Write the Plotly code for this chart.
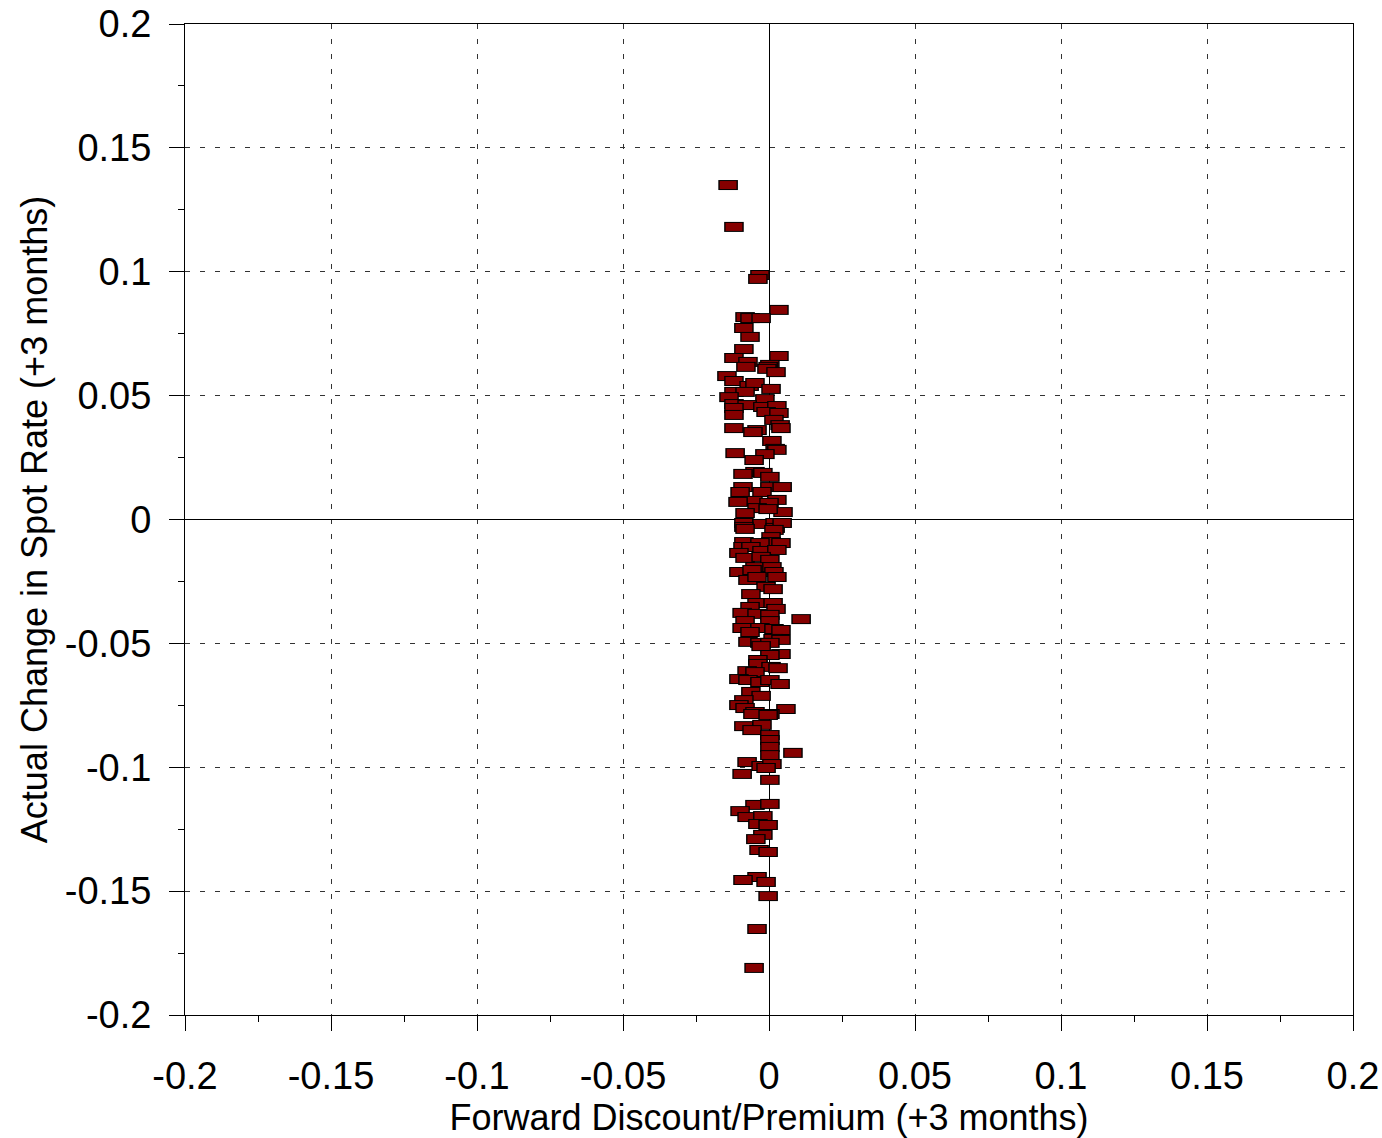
import plotly.graph_objects as go

# Forward discount/premium (+3 months)
fwd = [
    -0.0140, -0.0120, -0.0031, -0.0038, 0.0034, -0.0082, -0.0065, -0.0027, -0.0086, -0.0065,
    -0.0086, 0.0034, -0.0120, -0.0072, 0.0003, -0.0079, -0.0003, -0.0007, 0.0024, -0.0144,
    -0.0120, -0.0068, -0.0048, 0.0007, -0.0120, -0.0082, -0.0137, -0.0014, -0.0120, -0.0075,
    -0.0021, 0.0027, -0.0120, -0.0010, 0.0034, -0.0120, 0.0017, 0.0038, 0.0041, -0.0120,
    -0.0041, -0.0055, 0.0010, 0.0021, 0.0027, -0.0116, -0.0014, -0.0051, -0.0048, -0.0089,
    -0.0021, 0.0003, -0.0089, 0.0003, 0.0045, -0.0099, -0.0024, -0.0055, 0.0027, -0.0106,
    0.0000, -0.0041, -0.0082, 0.0048, -0.0003, -0.0086, -0.0024, 0.0021, -0.0086, 0.0021,
    0.0045, -0.0082, 0.0017, 0.0007, 0.0007, -0.0086, -0.0031, 0.0041, -0.0089, -0.0062,
    -0.0024, 0.0027, -0.0103, -0.0082, -0.0027, 0.0003, -0.0048, 0.0010, -0.0103, -0.0058,
    0.0017, -0.0072, -0.0041, 0.0027, -0.0010, 0.0014, -0.0062, -0.0041, 0.0014, -0.0065,
    0.0024, -0.0092, -0.0041, 0.0003, 0.0110, 0.0003, -0.0082, -0.0092, -0.0031, 0.0017,
    -0.0065, 0.0041, 0.0014, -0.0072, 0.0041, -0.0031, 0.0003, -0.0027, 0.0041, 0.0003,
    -0.0038, -0.0038, 0.0007, 0.0031, -0.0075, -0.0048, -0.0103, -0.0072, -0.0031, 0.0003,
    0.0038, -0.0062, -0.0027, -0.0086, -0.0103, -0.0082, -0.0048, 0.0058, 0.0003, -0.0055,
    -0.0003, -0.0086, -0.0024, -0.0058, 0.0003, 0.0003, 0.0003, 0.0003, 0.0082, -0.0075,
    -0.0027, 0.0010, -0.0010, -0.0092, 0.0003, -0.0048, 0.0003, -0.0099, -0.0075, -0.0021,
    -0.0038, -0.0003, -0.0021, -0.0045, -0.0034, -0.0003, -0.0041, -0.0089, -0.0010, -0.0003,
    -0.0041, -0.0051,
]

# Actual change in spot rate (+3 months)
spot = [
    0.1350, 0.1181, 0.0987, 0.0971, 0.0846, 0.0817, 0.0813, 0.0813, 0.0773, 0.0737,
    0.0688, 0.0660, 0.0652, 0.0636, 0.0624, 0.0616, 0.0616, 0.0608, 0.0595, 0.0579,
    0.0559, 0.0539, 0.0551, 0.0527, 0.0515, 0.0515, 0.0494, 0.0486, 0.0466, 0.0462,
    0.0454, 0.0458, 0.0450, 0.0434, 0.0430, 0.0422, 0.0402, 0.0381, 0.0369, 0.0369,
    0.0361, 0.0353, 0.0317, 0.0285, 0.0281, 0.0268, 0.0264, 0.0240, 0.0192, 0.0184,
    0.0188, 0.0172, 0.0131, 0.0131, 0.0131, 0.0111, 0.0111, 0.0075, 0.0079, 0.0071,
    0.0067, 0.0046, 0.0026, 0.0030, 0.0042, -0.0014, -0.0018, -0.0014, -0.0030, -0.0034,
    -0.0014, -0.0038, -0.0042, -0.0071, -0.0091, -0.0091, -0.0095, -0.0095, -0.0111, -0.0111,
    -0.0127, -0.0123, -0.0135, -0.0155, -0.0151, -0.0163, -0.0192, -0.0192, -0.0212, -0.0204,
    -0.0212, -0.0244, -0.0232, -0.0232, -0.0272, -0.0281, -0.0301, -0.0337, -0.0337, -0.0353,
    -0.0361, -0.0377, -0.0381, -0.0385, -0.0402, -0.0410, -0.0410, -0.0438, -0.0438, -0.0442,
    -0.0454, -0.0446, -0.0482, -0.0494, -0.0486, -0.0498, -0.0498, -0.0511, -0.0543, -0.0547,
    -0.0567, -0.0583, -0.0595, -0.0600, -0.0612, -0.0616, -0.0644, -0.0648, -0.0656, -0.0648,
    -0.0664, -0.0696, -0.0712, -0.0729, -0.0749, -0.0761, -0.0777, -0.0765, -0.0785, -0.0785,
    -0.0789, -0.0834, -0.0829, -0.0850, -0.0870, -0.0890, -0.0918, -0.0951, -0.0942, -0.0979,
    -0.0995, -0.0987, -0.1003, -0.1027, -0.1051, -0.1152, -0.1148, -0.1177, -0.1201, -0.1197,
    -0.1229, -0.1233, -0.1273, -0.1290, -0.1334, -0.1342, -0.1443, -0.1455, -0.1463, -0.1520,
    -0.1653, -0.1810,
]

tick_vals = [-0.2, -0.15, -0.1, -0.05, 0, 0.05, 0.1, 0.15, 0.2]
tick_text = ["-0.2", "-0.15", "-0.1", "-0.05", "0", "0.05", "0.1", "0.15", "0.2"]

FILL = "#850000"
EDGE = "#000000"

# Each point drawn as a bordered horizontal rectangle: an edge bar then a fill bar,
# interleaved so later points overlap earlier ones with their borders intact.
xs, ys, cols, sizes, widths = [], [], [], [], []
for xv, yv in zip(fwd, spot):
    xs += [xv, xv]
    ys += [yv, yv]
    cols += [EDGE, FILL]
    sizes += [14, 12]
    widths += [10, 8]

fig = go.Figure()
fig.add_trace(go.Scatter(
    x=xs, y=ys, mode="markers",
    marker=dict(symbol="line-ew", size=sizes, color=cols, opacity=1,
                line=dict(width=widths, color=cols)),
    hoverinfo="skip", showlegend=False,
))

FONT = "Liberation Sans, Arial, sans-serif"
axis_common = dict(
    range=[-0.2, 0.2],
    tickmode="array", tickvals=tick_vals, ticktext=tick_text,
    ticks="outside", ticklen=15, tickwidth=1, tickcolor="black",
    tickfont=dict(family=FONT, size=38, color="black"),
    showline=True, linecolor="black", linewidth=1, mirror=True,
    showgrid=True, gridcolor="#333333", gridwidth=1, griddash="5px,10px",
    zeroline=True, zerolinecolor="black", zerolinewidth=1,
    minor=dict(dtick=0.025, tick0=0, ticks="outside", ticklen=6,
               tickcolor="black", showgrid=False),
    automargin=False,
)

fig.update_layout(
    width=1382, height=1138,
    margin=dict(l=185, r=29, t=24, b=123),
    paper_bgcolor="white", plot_bgcolor="white",
    font=dict(family=FONT, color="black"),
    xaxis=dict(**axis_common,
               title=dict(text="Forward Discount/Premium (+3 months)",
                          font=dict(family=FONT, size=36), standoff=2),
               ticklabelstandoff=12),
    yaxis=dict(**axis_common,
               title=dict(text="Actual Change in Spot Rate (+3 months)",
                          font=dict(family=FONT, size=36), standoff=6),
               ticklabelstandoff=10),
)

fig.write_html(
    "out.html",
    config={"displayModeBar": False},
    post_script="document.body.style.margin='0';document.body.style.overflow='hidden';",
)
